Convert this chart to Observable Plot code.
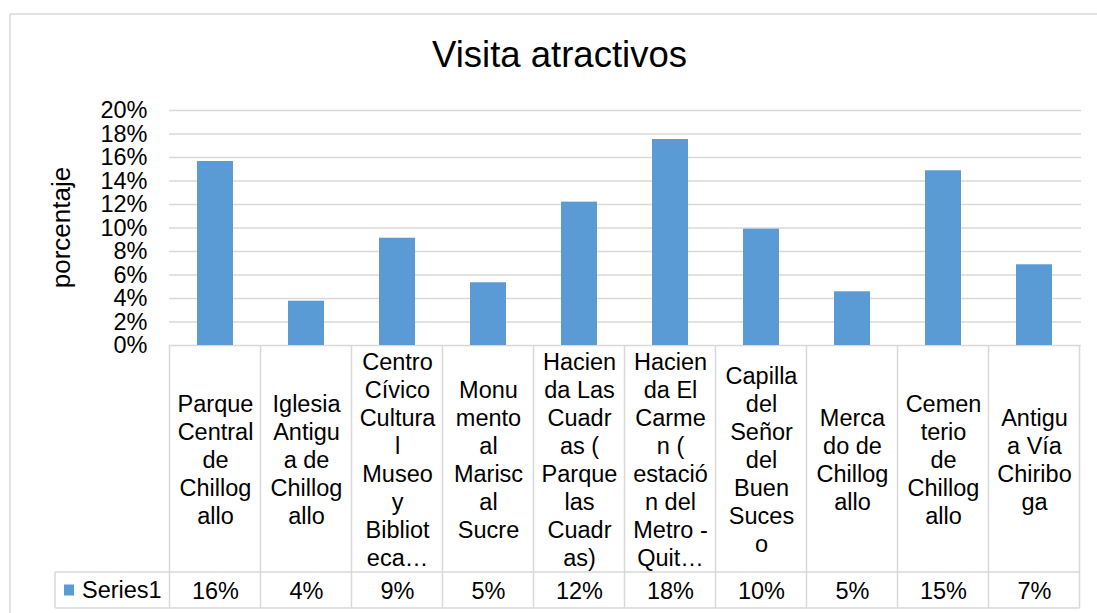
<!DOCTYPE html>
<html>
<head>
<meta charset="utf-8">
<script src="https://cdn.jsdelivr.net/npm/d3@7"></script>
<script src="https://cdn.jsdelivr.net/npm/@observablehq/plot@0.6"></script>
<style>
  body { margin: 0; background: #fff; }
  #wrap { position: relative; width: 1097px; height: 613px; overflow: hidden; background: #fff;
          font-family: "Liberation Sans", Arial, sans-serif; }
  #wrap svg { position: absolute; left: 0; top: 0; }
</style>
</head>
<body>
<div id="wrap"></div>
<script>
// ---- data ----
const title = "Visita atractivos";
const yLabel = "porcentaje";
const seriesName = "Series1";
const categories = [
  "Parque Central de Chillogallo",
  "Iglesia Antigua de Chillogallo",
  "Centro Cívico Cultural Museo y Biblioteca…",
  "Monumento al Mariscal Sucre",
  "Hacienda Las Cuadras ( Parque las Cuadras)",
  "Hacienda El Carmen ( estación del Metro - Quit…",
  "Capilla del Señor del Buen Suceso",
  "Mercado de Chillogallo",
  "Cementerio de Chillogallo",
  "Antigua Vía Chiriboga"
];
const categoryLines = [
  ["Parque", "Central", "de", "Chillog", "allo"],
  ["Iglesia", "Antigu", "a de", "Chillog", "allo"],
  ["Centro", "Cívico", "Cultura", "l", "Museo", "y", "Bibliot", "eca…"],
  ["Monu", "mento", "al", "Marisc", "al", "Sucre"],
  ["Hacien", "da Las", "Cuadr", "as (", "Parque", "las", "Cuadr", "as)"],
  ["Hacien", "da El", "Carme", "n (", "estació", "n del", "Metro -", "Quit…"],
  ["Capilla", "del", "Señor", "del", "Buen", "Suces", "o"],
  ["Merca", "do de", "Chillog", "allo"],
  ["Cemen", "terio", "de", "Chillog", "allo"],
  ["Antigu", "a Vía", "Chiribo", "ga"]
];
const values = [0.1566, 0.0377, 0.0913, 0.0534, 0.1220, 0.1753, 0.0990, 0.0457, 0.1487, 0.0687];
const yTicks = [0, 0.02, 0.04, 0.06, 0.08, 0.10, 0.12, 0.14, 0.16, 0.18, 0.20];

// ---- build ----
const fmt = d3.format(".0%");
const data = categories.map((c, i) => ({category: c, value: values[i], lines: categoryLines[i]}));
const FONT = "Liberation Sans, Arial, sans-serif";
const FS = 23.5;
const GRID = "#d9d9d9";

const chart = Plot.plot({
  width: 1097,
  height: 613,
  marginLeft: 169,
  marginRight: 16,
  marginTop: 110,
  marginBottom: 268,
  style: {fontFamily: FONT, fontSize: FS + "px", color: "#000", background: "transparent", overflow: "visible"},
  x: {domain: categories, axis: null, paddingInner: 0.6, paddingOuter: 0.3},
  y: {domain: [0, 0.2], ticks: yTicks, tickFormat: fmt, tickSize: 0, tickPadding: 22, label: null},
  marks: [
    Plot.ruleY(yTicks, {y: d => d, stroke: GRID, strokeWidth: 1.5}),
    Plot.barY(data, {x: "category", y: "value", fill: "#5b9bd5"}),
    Plot.text(data, {x: "category", text: d => d.lines.join("\n"), frameAnchor: "bottom", lineAnchor: "middle",
                     dy: 113.5, lineHeight: 1.19, fontSize: FS, fill: "#000"}),
    Plot.text(data, {x: "category", text: d => fmt(d.value), frameAnchor: "bottom", lineAnchor: "middle",
                     dy: 246, fontSize: FS, fill: "#000"})
  ]
});

document.getElementById("wrap").appendChild(chart);

// table grid and extra text, positioned through the plot's scales
const xs = chart.scale("x");
const ys = chart.scale("y");
const step = xs.apply(categories[1]) - xs.apply(categories[0]);
const bw = xs.bandwidth != null ? xs.bandwidth : step * 0.4;
const left0 = xs.apply(categories[0]) - (step - bw) / 2;
const bounds = d3.range(categories.length + 1).map(i => left0 + i * step);
const right = bounds[bounds.length - 1];
const y0 = ys.apply(0);
const yTop = ys.apply(0.2);
const headerBottom = y0 + 227;
const tableBottom = y0 + 263;
const legendLeft = 55;

const svg = d3.select(chart);
const g = svg.append("g").attr("stroke", GRID).attr("stroke-width", 1.5).attr("fill", "none");
// outer chart border
g.append("rect").attr("x", 10).attr("y", 14).attr("width", 1200).attr("height", 700);
bounds.forEach(b => g.append("line").attr("x1", b).attr("x2", b).attr("y1", y0).attr("y2", tableBottom));
g.append("line").attr("x1", legendLeft).attr("x2", legendLeft).attr("y1", headerBottom).attr("y2", tableBottom);
g.append("line").attr("x1", legendLeft).attr("x2", right).attr("y1", headerBottom).attr("y2", headerBottom);
g.append("line").attr("x1", legendLeft).attr("x2", right).attr("y1", tableBottom).attr("y2", tableBottom);

// legend key in table
const midRow = (headerBottom + tableBottom) / 2;
svg.append("rect").attr("x", legendLeft + 9).attr("y", midRow - 5.5)
  .attr("width", 10).attr("height", 11).attr("fill", "#5b9bd5");
svg.append("text").attr("x", legendLeft + 27).attr("y", midRow)
  .attr("dy", "0.35em").attr("text-anchor", "start")
  .attr("font-family", FONT).attr("font-size", FS).attr("fill", "#000")
  .text(seriesName);

// y label
svg.append("text")
  .attr("transform", `translate(61,${(y0 + yTop) / 2}) rotate(-90)`)
  .attr("text-anchor", "middle").attr("dy", "0.35em")
  .attr("font-family", FONT).attr("font-size", 26).attr("fill", "#000")
  .text(yLabel);

// title
svg.append("text").attr("x", 559.5).attr("y", 67).attr("text-anchor", "middle")
  .attr("font-family", FONT).attr("font-size", 36.5).attr("fill", "#000")
  .text(title);
</script>
</body>
</html>
